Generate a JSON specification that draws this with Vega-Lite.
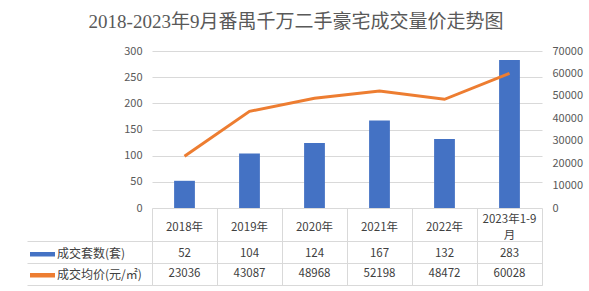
{
  "$schema": "https://vega.github.io/schema/vega-lite/v6.json",
  "width": 390,
  "height": 234,
  "autosize": {"type": "none"},
  "padding": {"left": 152, "top": 51, "right": 47, "bottom": 6},
  "background": "white",
  "title": {
    "text": "2018-2023年9月番禺千万二手豪宅成交量价走势图",
    "anchor": "middle",
    "dx": -51,
    "offset": -6,
    "baseline": "bottom",
    "fontSize": 19,
    "font": "Liberation Serif, Noto Sans CJK SC",
    "fontWeight": "normal",
    "color": "#595959"
  },
  "config": {
    "view": {"stroke": null},
    "font": "Noto Sans CJK SC",
    "axis": {"labelFont": "Noto Sans CJK SC", "labelFontSize": 11, "labelColor": "#595959"}
  },
  "data": {
    "values": [
      {"year": "2018年", "count": 52, "price": 23036},
      {"year": "2019年", "count": 104, "price": 43087},
      {"year": "2020年", "count": 124, "price": 48968},
      {"year": "2021年", "count": 167, "price": 52198},
      {"year": "2022年", "count": 132, "price": 48472},
      {"year": "2023年1-9\n月", "count": 283, "price": 60028}
    ]
  },
  "layer": [
    {
      "mark": {"type": "bar", "width": {"band": 0.32}},
      "encoding": {
        "x": {
          "field": "year", "type": "nominal", "sort": null,
          "scale": {"paddingInner": 0, "paddingOuter": 0},
          "axis": {
            "orient": "bottom", "labels": false, "title": null,
            "domain": true, "domainColor": "#D9D9D9",
            "ticks": true, "tickBand": "extent", "tickSize": -77, "tickColor": "#D9D9D9",
            "grid": false
          }
        },
        "y": {
          "field": "count", "type": "quantitative",
          "scale": {"domain": [-147.1, 300], "nice": false, "zero": false},
          "axis": {
            "orient": "left", "values": [0, 50, 100, 150, 200, 250, 300],
            "title": null, "domain": false, "ticks": false, "labelPadding": 10,
            "grid": true, "gridColor": "#D9D9D9"
          }
        },
        "y2": {"datum": 0},
        "color": {
          "datum": "成交套数(套)", "type": "nominal",
          "scale": {"domain": ["成交套数(套)", "成交均价(元/㎡)"], "range": ["#4472C4", "#ED7D31"]},
          "legend": {
            "orient": "none", "legendX": -122, "legendY": 193, "title": null,
            "direction": "vertical",
            "symbolType": "M-1,-0.18H1V0.18H-1Z", "symbolSize": 625, "symbolStrokeWidth": 0,
            "labelFontSize": 12, "labelColor": "#404040", "labelFont": "Noto Sans CJK SC",
            "labelOffset": 2, "clipHeight": 20.5, "rowPadding": 0, "padding": 0,
            "encode": {"symbols": {"update": {"fill": {"scale": "color", "field": "value"}, "opacity": {"value": 1}, "stroke": {"value": "transparent"}}}}
          }
        }
      }
    },
    {
      "mark": {"type": "line", "strokeWidth": 3},
      "encoding": {
        "x": {"field": "year", "type": "nominal", "sort": null, "bandPosition": 0.5},
        "y": {
          "field": "price", "type": "quantitative",
          "scale": {"domain": [-34331, 70000], "nice": false, "zero": false},
          "axis": {
            "orient": "right", "values": [0, 10000, 20000, 30000, 40000, 50000, 60000, 70000],
            "format": "d",
            "title": null, "domain": false, "ticks": false, "labelPadding": 10, "grid": false
          }
        },
        "color": {"datum": "成交均价(元/㎡)", "type": "nominal"}
      }
    },
    {
      "layer": [
        {
          "transform": [{"filter": "indexof(datum.year, '月') < 0"}],
          "mark": {"type": "text", "fontSize": 11.5, "color": "#404040", "baseline": "middle", "font": "Noto Sans CJK SC"},
          "encoding": {
            "x": {"field": "year", "type": "nominal", "sort": null, "bandPosition": 0.5},
            "y": {
              "datum": "t2", "type": "nominal", "bandPosition": 0.8,
              "scale": {"type": "band", "domain": ["t1", "t2", "t3", "a1", "a2", "b1", "b2"], "range": [157, 234], "paddingInner": 0, "paddingOuter": 0},
              "axis": {
                "orient": "left", "labels": false, "title": null, "domain": false,
                "ticks": true, "tickSize": 125, "tickBand": "extent",
                "tickColor": {"condition": {"test": "indexof(['t3','a2','b2'], datum.value) >= 0", "value": "#D9D9D9"}, "value": "rgba(0,0,0,0)"},
                "grid": true,
                "gridColor": {"condition": {"test": "indexof(['t3','a2','b2'], datum.value) >= 0", "value": "#D9D9D9"}, "value": "rgba(0,0,0,0)"}
              }
            },
            "text": {"field": "year"}
          }
        },
        {
          "transform": [{"filter": "indexof(datum.year, '月') >= 0"}],
          "mark": {"type": "text", "lineBreak": "\n", "lineHeight": 16.5, "dy": -8.25, "fontSize": 11.5, "color": "#404040", "baseline": "middle", "font": "Noto Sans CJK SC"},
          "encoding": {
            "x": {"field": "year", "type": "nominal", "sort": null, "bandPosition": 0.5},
            "y": {"datum": "t2", "type": "nominal", "bandPosition": 0.8},
            "text": {"field": "year"}
          }
        },
        {
          "mark": {"type": "text", "fontSize": 11.5, "color": "#404040", "baseline": "middle", "font": "Noto Sans CJK SC"},
          "encoding": {
            "x": {"field": "year", "type": "nominal", "sort": null, "bandPosition": 0.5},
            "y": {"datum": "a2", "type": "nominal", "bandPosition": 0.2},
            "text": {"field": "count"}
          }
        },
        {
          "mark": {"type": "text", "fontSize": 11.5, "color": "#404040", "baseline": "middle", "font": "Noto Sans CJK SC"},
          "encoding": {
            "x": {"field": "year", "type": "nominal", "sort": null, "bandPosition": 0.5},
            "y": {"datum": "b2", "type": "nominal", "bandPosition": 0.0},
            "text": {"field": "price"}
          }
        }
      ]
    }
  ],
  "resolve": {"scale": {"y": "independent"}}
}
